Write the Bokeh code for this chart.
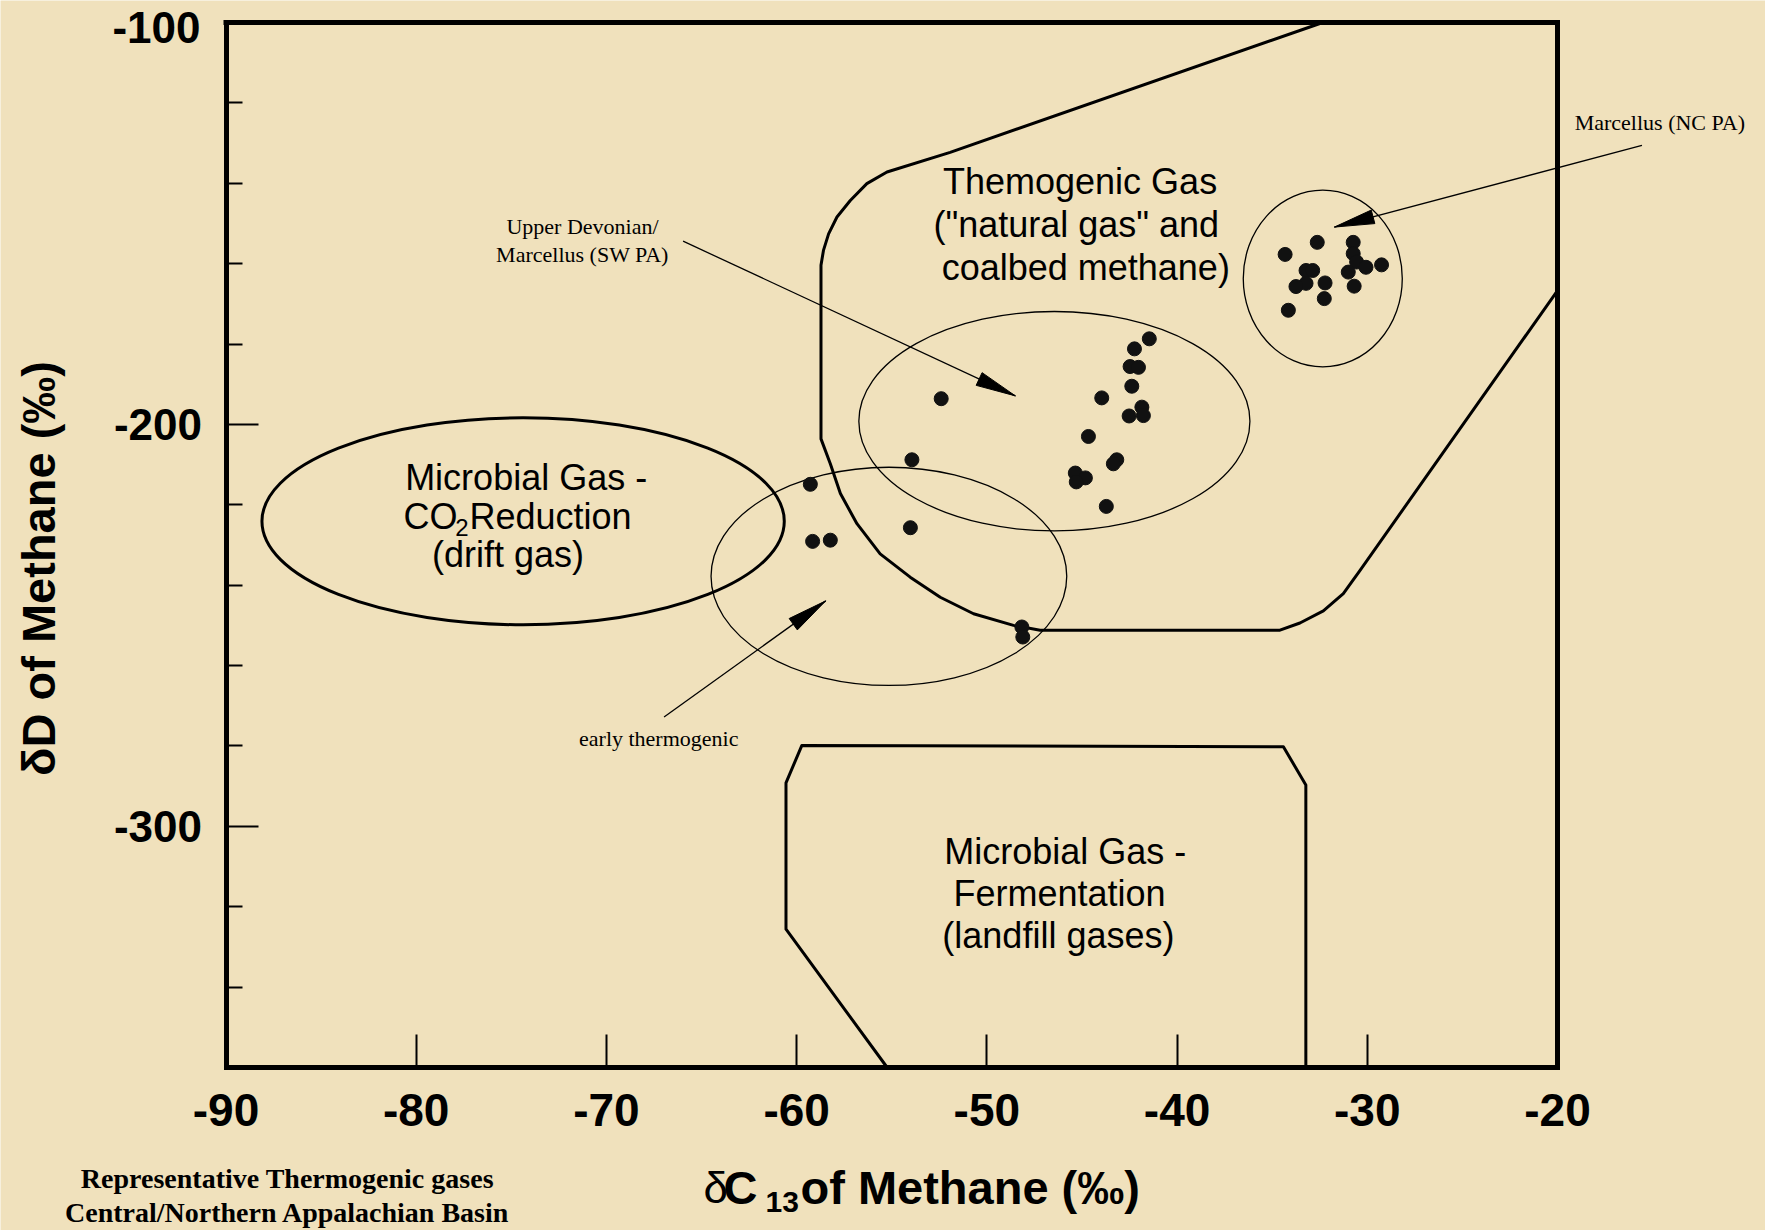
import math
from bokeh.plotting import figure
from bokeh.models import Range1d, FixedTicker, Label
from bokeh.embed import file_html
from bokeh.resources import INLINE

# ---------------- data ----------------
# Upper Devonian / Marcellus (SW PA) samples: delta13C, deltaD
swpa_c13 = [-52.4, -43.96, -41.46, -42.24, -42.47, -42.03, -42.38, -41.85, -41.77, -42.52,
            -44.66, -43.17, -43.35, -45.35, -44.82, -45.30, -43.72, -53.94, -59.28, -54.02,
            -59.16, -58.23, -48.16, -48.11]
swpa_dD = [-193.6, -193.4, -178.7, -181.2, -185.6, -185.8, -190.5, -195.7, -197.8, -197.9,
           -203.0, -208.8, -209.8, -212.1, -213.3, -214.3, -220.4, -208.8, -214.9, -225.7,
           -229.1, -228.8, -250.4, -252.9]
# Marcellus (NC PA) samples
ncpa_c13 = [-32.63, -34.32, -30.74, -30.74, -30.56, -30.07, -29.25, -31.00, -33.22, -32.87,
            -33.22, -33.75, -32.22, -30.69, -32.26, -34.15]
ncpa_dD = [-154.7, -157.7, -154.7, -157.5, -159.6, -160.9, -160.3, -162.1, -161.7, -161.7,
           -164.9, -165.7, -164.8, -165.6, -168.7, -171.6]

# Field outlines
thermo_c13 = [-32.34, -51.93, -55.25, -56.31, -57.18, -57.88, -58.32, -58.59, -58.72, -58.72,
              -58.23, -57.70, -56.83, -55.61, -54.03, -52.45, -50.70, -48.60, -47.20, -34.59,
              -33.54, -32.31, -31.26, -30.38, -20.0]
thermo_dD = [-100.0, -132.3, -137.2, -140.1, -144.3, -148.4, -152.6, -156.7, -160.4, -203.6,
             -209.8, -217.2, -224.7, -232.2, -238.0, -243.0, -247.1, -250.0, -251.2, -251.2,
             -249.4, -246.4, -242.1, -236.3, -166.7]
ferm_c13 = [-55.24, -60.56, -60.56, -59.73, -34.41, -33.23, -33.23]
ferm_dD = [-360.0, -325.6, -289.2, -279.9, -280.2, -289.7, -360.0]

# Ellipses: centre x, centre y, width, height
co2_ell = [-74.38, -224.1, 27.46, 51.5]
early_ell = [-55.15, -237.8, 18.7, 54.3]
swpa_ell = [-46.45, -199.2, 20.56, 54.6]
ncpa_ell = [-32.34, -163.7, 8.36, 44.0]

# Arrows: start x, start y, tip x, tip y
arrow_swpa = [-65.97, -154.4, -48.5, -192.9]
arrow_early = [-66.97, -272.8, -58.47, -243.9]
arrow_ncpa = [-15.56, -130.6, -31.73, -150.9]

x_ticks = [-90, -80, -70, -60, -50, -40, -30, -20]
y_ticks = [-300, -200, -100]
y_minor = [-340, -320, -280, -260, -240, -220, -180, -160, -140, -120]

# ---------------- figure ----------------
W, H = 1765, 1230
BOX_L, BOX_R, BOX_T, BOX_B = 225.5, 1557.0, 22.0, 1067.0
SX = (BOX_R - BOX_L) / 70.0
SY = (BOX_B - BOX_T) / 260.0
x0 = -90 - BOX_L / SX
x1 = -90 + (W - BOX_L) / SX
y1 = -100 + BOX_T / SY
y0 = -360 - (H - BOX_B) / SY

def px_x(px):
    return -90 + (px - BOX_L) / SX

def px_y(px):
    return -100 - (px - BOX_T) / SY

BG = "#F0E1BC"
p = figure(width=W, height=H, output_backend="svg", toolbar_location=None,
           x_range=Range1d(x0, x1), y_range=Range1d(y0, y1),
           background_fill_color=BG, border_fill_color=BG)
p.min_border_left = 0
p.min_border_right = 0
p.min_border_top = 0
p.min_border_bottom = 0
p.outline_line_color = None
p.grid.visible = False

SANS = "Liberation Sans"
SERIF = "Liberation Serif"

xa = p.xaxis[0]
xa.fixed_location = -360
xa.bounds = (-90, -20)
xa.ticker = FixedTicker(ticks=x_ticks, minor_ticks=[])
xa.major_tick_in = 33
xa.major_tick_out = 0
xa.minor_tick_in = 0
xa.minor_tick_out = 0
xa.major_tick_line_width = 2
xa.axis_line_width = 5
xa.axis_line_cap = "square"
xa.major_label_text_font = SANS
xa.major_label_text_font_style = "bold"
xa.major_label_text_font_size = "46px"
xa.major_label_text_color = "black"
xa.major_label_standoff = 26
xa.major_label_overrides = {t: str(t) for t in x_ticks}

ya = p.yaxis[0]
ya.fixed_location = -90
ya.bounds = (-360, -100)
ya.ticker = FixedTicker(ticks=y_ticks, minor_ticks=y_minor)
ya.major_tick_in = 32
ya.major_tick_out = 0
ya.minor_tick_in = 16
ya.minor_tick_out = 0
ya.major_tick_line_width = 2
ya.minor_tick_line_width = 2
ya.axis_line_width = 5
ya.axis_line_cap = "square"
ya.major_label_text_font = SANS
ya.major_label_text_font_style = "bold"
ya.major_label_text_font_size = "44px"
ya.major_label_text_color = "black"
ya.major_label_standoff = 24
ya.major_label_orientation = "horizontal"
# the top label (-100) sits against the page edge; it is drawn below as a Label
ya.major_label_overrides = {-300: "-300", -200: "-200", -100: ""}

# box top and right edges
p.line(x=[-90, -20], y=[-100, -100], line_width=5, line_color="black", line_cap="square")
p.line(x=[-20, -20], y=[-360, -100], line_width=5, line_color="black", line_cap="square")

# field outlines
p.line(x=thermo_c13, y=thermo_dD, line_width=3, line_color="black", line_join="round")
p.line(x=ferm_c13, y=ferm_dD, line_width=3, line_color="black", line_join="round")
p.ellipse(x=co2_ell[0], y=co2_ell[1], width=co2_ell[2], height=co2_ell[3],
          fill_color=None, line_color="black", line_width=3)
for e in (early_ell, swpa_ell, ncpa_ell):
    p.ellipse(x=e[0], y=e[1], width=e[2], height=e[3],
              fill_color=None, line_color="black", line_width=1.3)

# arrows
def head(a, L=40.0, w=7.0):
    ax0, ay0, ax1, ay1 = a
    dx, dy = (ax1 - ax0) * SX, (ay1 - ay0) * SY
    d = math.hypot(dx, dy)
    ux, uy = dx / d, dy / d
    bx, by = ax1 * SX - L * ux, ay1 * SY - L * uy
    nx, ny = -uy, ux
    xs = [ax1, (bx + w * nx) / SX, (bx - w * nx) / SX]
    ys = [ay1, (by + w * ny) / SY, (by - w * ny) / SY]
    return xs, ys

arrows = [arrow_swpa, arrow_early, arrow_ncpa]
p.segment(x0=[a[0] for a in arrows], y0=[a[1] for a in arrows],
          x1=[a[2] for a in arrows], y1=[a[3] for a in arrows],
          line_color="black", line_width=1.3)
hx, hy = [], []
for a in arrows:
    xs, ys = head(a)
    hx.append(xs)
    hy.append(ys)
p.patches(xs=hx, ys=hy, fill_color="black", line_color="black", line_width=1)

# samples
p.scatter(x=swpa_c13, y=swpa_dD, size=14, fill_color="#111111", line_color="#111111")
p.scatter(x=ncpa_c13, y=ncpa_dD, size=14, fill_color="#111111", line_color="#111111")

# ---------------- texts ----------------
def lab(x, y, t, size, font=SANS, style="normal", align="center", baseline="middle", angle=0):
    p.add_layout(Label(x=x, y=y, text=t, text_font=font, text_font_size=size,
                       text_font_style=style, text_align=align, text_baseline=baseline,
                       text_color="black", angle=angle))

# top y tick label
lab(px_x(200), px_y(27), str(y_ticks[-1]), "44px", style="bold", align="right")

R = "36px"
lab(-45.1, -139.6, "Themogenic Gas", R)
lab(-45.3, -150.2, '("natural gas" and', R)
lab(-44.8, -160.9, "coalbed methane)", R)

lab(-74.22, -213.3, "Microbial Gas -", R)
lab(-80.67, -222.9, "CO", R, align="left")
lab(-77.95, -225.6, "2", "24px", align="left")
lab(-77.2, -222.9, "Reduction", R, align="left")
lab(-75.17, -232.3, "(drift gas)", R)

lab(-45.88, -306.2, "Microbial Gas -", R)
lab(-46.18, -316.6, "Fermentation", R)
lab(-46.24, -327.2, "(landfill gases)", R)

A = "22px"
lab(-71.26, -150.8, "Upper Devonian/", A, font=SERIF)
lab(-71.26, -157.8, "Marcellus (SW PA)", A, font=SERIF)
lab(-67.25, -278.2, "early thermogenic", A, font=SERIF)
lab(-14.62, -124.8, "Marcellus (NC PA)", A, font=SERIF)

lab(-86.77, -387.7, "Representative Thermogenic gases", "28px", font=SERIF, style="bold")
lab(-86.77, -396.1, "Central/Northern Appalachian Basin", "28px", font=SERIF, style="bold")

# axis titles
lab(px_x(703), px_y(1187), "\u03b4", "44px", align="left")
lab(px_x(723), px_y(1187), "C", "47px", style="bold", align="left")
lab(px_x(765), px_y(1201), "13", "30px", style="bold", align="left")
lab(px_x(800), px_y(1187), "of Methane (\u2030)", "47px", style="bold", align="left")
lab(px_x(38), px_y(568), "\u03b4D of Methane (\u2030)", "47px", style="bold", angle=math.pi / 2)

open("out.html", "w").write(file_html(p, INLINE))
